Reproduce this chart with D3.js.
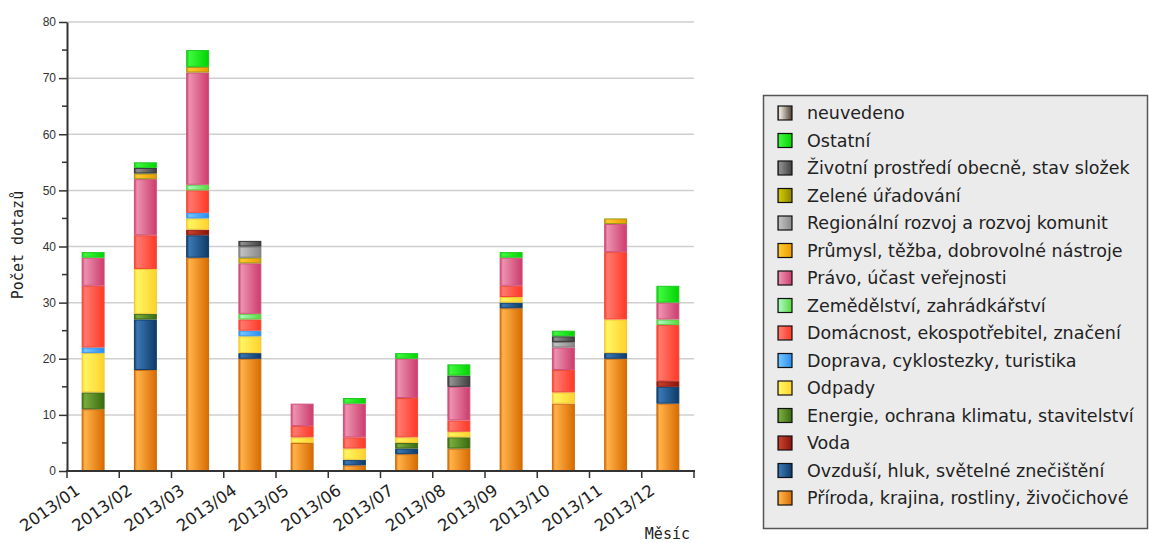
<!DOCTYPE html>
<html>
<head>
<meta charset="utf-8">
<script src="https://cdn.jsdelivr.net/npm/d3@7/dist/d3.min.js"></script>
<style>
  body { margin: 0; background: #fff; }
  svg { display: block; }
</style>
</head>
<body>
<div id="container"></div>
<script>
// kategorie (měsíce)
const months = ["2013/01","2013/02","2013/03","2013/04","2013/05","2013/06",
                "2013/07","2013/08","2013/09","2013/10","2013/11","2013/12"];

// série odspodu nahoru
const seriesNames = [
  "Příroda, krajina, rostliny, živočichové",
  "Ovzduší, hluk, světelné znečištění",
  "Voda",
  "Energie, ochrana klimatu, stavitelství",
  "Odpady",
  "Doprava, cyklostezky, turistika",
  "Domácnost, ekospotřebitel, značení",
  "Zemědělství, zahrádkářství",
  "Právo, účast veřejnosti",
  "Průmysl, těžba, dobrovolné nástroje",
  "Regionální rozvoj a rozvoj komunit",
  "Zelené úřadování",
  "Životní prostředí obecně, stav složek",
  "Ostatní",
  "neuvedeno"
];

const priroda     = [11,18,38,20, 5, 1, 3, 4,29,12,20,12];
const ovzdusi     = [ 0, 9, 4, 1, 0, 1, 1, 0, 1, 0, 1, 3];
const voda        = [ 0, 0, 1, 0, 0, 0, 0, 0, 0, 0, 0, 1];
const energie     = [ 3, 1, 0, 0, 0, 0, 1, 2, 0, 0, 0, 0];
const odpady      = [ 7, 8, 2, 3, 1, 2, 1, 1, 1, 2, 6, 0];
const doprava     = [ 1, 0, 1, 1, 0, 0, 0, 0, 0, 0, 0, 0];
const domacnost   = [11, 6, 4, 2, 2, 2, 7, 2, 2, 4,12,10];
const zemedelstvi = [ 0, 0, 1, 1, 0, 0, 0, 0, 0, 0, 0, 1];
const pravo       = [ 5,10,20, 9, 4, 6, 7, 6, 5, 4, 5, 3];
const prumysl     = [ 0, 1, 1, 1, 0, 0, 0, 0, 0, 0, 1, 0];
const regionalni  = [ 0, 0, 0, 2, 0, 0, 0, 0, 0, 1, 0, 0];
const zelene      = [ 0, 0, 0, 0, 0, 0, 0, 0, 0, 0, 0, 0];
const zivotni     = [ 0, 1, 0, 1, 0, 0, 0, 2, 0, 1, 0, 0];
const ostatni     = [ 1, 1, 3, 0, 0, 1, 1, 2, 1, 1, 0, 3];
const neuvedeno   = [ 0, 0, 0, 0, 0, 0, 0, 0, 0, 0, 0, 0];

const seriesValues = [priroda, ovzdusi, voda, energie, odpady, doprava, domacnost,
  zemedelstvi, pravo, prumysl, regionalni, zelene, zivotni, ostatni, neuvedeno];

const yTicks = [0,10,20,30,40,50,60,70,80];

// barvy: [světlá, tmavá, okraj]
const colors = [
  ["#ffb24a","#d86c00","#c96a10"],
  ["#3a78b4","#0e3a68","#123c66"],
  ["#c8402e","#8a1408","#8a1a10"],
  ["#78ac3c","#3a6a10","#3e6a14"],
  ["#fff562","#ffd22c","#f0c830"],
  ["#70c4ff","#2a8cf0","#3a94e8"],
  ["#ff7a6e","#ff3826","#f04838"],
  ["#a8f8c0","#58d838","#60c840"],
  ["#ec92b0","#cc3c6c","#d0507c"],
  ["#ffc830","#ec9a00","#9a9a10"],
  ["#c0c0c0","#888888","#777777"],
  ["#d0c800","#8a8200","#7a7400"],
  ["#909090","#404040","#333333"],
  ["#40f840","#00d400","#20c820"],
  ["#f0ebe4","#4e3e30","#3a3028"]
];

const W = 1150, H = 543;
const margin = {top: 22, left: 67, right: 456, bottom: 72};
const width = W - margin.left - margin.right;
const height = H - margin.top - margin.bottom;

const svg = d3.select("#container").append("svg")
  .attr("width", W).attr("height", H)
  .style("font-family", "'DejaVu Sans', sans-serif");

const defs = svg.append("defs");
colors.forEach((c, i) => {
  const g = defs.append("linearGradient").attr("id", "grad" + i)
    .attr("x1", "0%").attr("x2", "100%").attr("y1", "0%").attr("y2", "0%");
  g.append("stop").attr("offset", "0%").attr("stop-color", c[1]);
  g.append("stop").attr("offset", "12%").attr("stop-color", c[0]);
  g.append("stop").attr("offset", "100%").attr("stop-color", c[1]);
});

const plot = svg.append("g").attr("transform", `translate(${margin.left},${margin.top})`);

const x = d3.scaleBand().domain(months).range([0, width]).paddingInner(0).paddingOuter(0);
const y = d3.scaleLinear().domain([0, 80]).range([height, 0]);

// mřížka
plot.append("g").selectAll("line").data(yTicks.slice(1)).join("line")
  .attr("x1", 0).attr("x2", width)
  .attr("y1", d => y(d)).attr("y2", d => y(d))
  .attr("stroke", "#cfcfcf").attr("stroke-width", 1.5);

// stack
const table = months.map((m, j) => {
  const row = {month: m};
  seriesNames.forEach((s, i) => row[s] = seriesValues[i][j]);
  return row;
});
const stacked = d3.stack().keys(seriesNames)(table);

const barW = x.bandwidth() * 0.42;
plot.append("g").selectAll("g").data(stacked).join("g")
  .attr("fill", (d, i) => `url(#grad${i})`)
  .attr("stroke", (d, i) => colors[i][2])
  .selectAll("rect")
  .data(d => d.filter(p => p[1] - p[0] > 0))
  .join("rect")
    .attr("x", d => x(d.data.month) + (x.bandwidth() - barW) / 2)
    .attr("y", d => y(d[1]) + 0.5)
    .attr("width", barW)
    .attr("height", d => y(d[0]) - y(d[1]) - 1)
    .attr("stroke-width", 1);

// osa y
const yAxis = plot.append("g")
  .call(d3.axisLeft(y).tickValues(yTicks).tickSize(8).tickPadding(3).tickSizeOuter(0));
yAxis.select(".domain").attr("stroke", "#333").attr("stroke-width", 2);
yAxis.selectAll(".tick line").attr("stroke", "#333").attr("stroke-width", 1.5);
yAxis.selectAll("text").style("font-size", "12px").attr("fill", "#333");
// vedlejší značky
plot.append("g").selectAll("line").data(d3.range(5, 80, 10)).join("line")
  .attr("x1", -5).attr("x2", 0)
  .attr("y1", d => y(d)).attr("y2", d => y(d))
  .attr("stroke", "#333").attr("stroke-width", 1.5);

// osa x
const bounds = months.map(m => x(m)).concat([width]);
plot.append("line").attr("x1", -1).attr("x2", width + 1)
  .attr("y1", height).attr("y2", height)
  .attr("stroke", "#333").attr("stroke-width", 2);
plot.append("g").selectAll("line").data(bounds).join("line")
  .attr("x1", d => d).attr("x2", d => d)
  .attr("y1", height).attr("y2", height + 7)
  .attr("stroke", "#333").attr("stroke-width", 1.5);
plot.append("g").selectAll("text").data(months).join("text")
  .attr("transform", d => `translate(${x(d) + x.bandwidth() / 2 - 12},${height + 22}) rotate(-35)`)
  .attr("text-anchor", "end")
  .style("font-size", "16.5px").attr("fill", "#222")
  .text(d => d);

// popisky os
svg.append("text")
  .attr("transform", `translate(23,245) rotate(-90)`)
  .attr("text-anchor", "middle")
  .style("font-family", "'DejaVu Sans Mono', monospace").style("font-size", "15px").attr("fill", "#222")
  .text("Počet dotazů");
svg.append("text")
  .attr("x", 690).attr("y", 539).attr("text-anchor", "end")
  .style("font-family", "'DejaVu Sans Mono', monospace").style("font-size", "15px").attr("fill", "#222")
  .text("Měsíc");

// legenda
const legend = svg.append("g");
legend.append("rect").attr("x", 763.5).attr("y", 95.5).attr("width", 384).attr("height", 433)
  .attr("fill", "#ebebeb").attr("stroke", "#555").attr("stroke-width", 1.5);
const legendOrder = d3.range(seriesNames.length).reverse();
const li = legend.selectAll("g.item").data(legendOrder).join("g")
  .attr("class", "item")
  .attr("transform", (d, k) => `translate(778,${113 + k * 27.5})`);
li.append("rect").attr("x", 0).attr("y", -7).attr("width", 14).attr("height", 14)
  .attr("fill", d => `url(#grad${d})`).attr("stroke", "#111").attr("stroke-width", 1.2);
li.append("text").attr("x", 29).attr("y", 0).attr("dy", "0.35em")
  .style("font-size", "17.5px").attr("fill", "#222")
  .text(d => seriesNames[d]);
</script>
</body>
</html>
